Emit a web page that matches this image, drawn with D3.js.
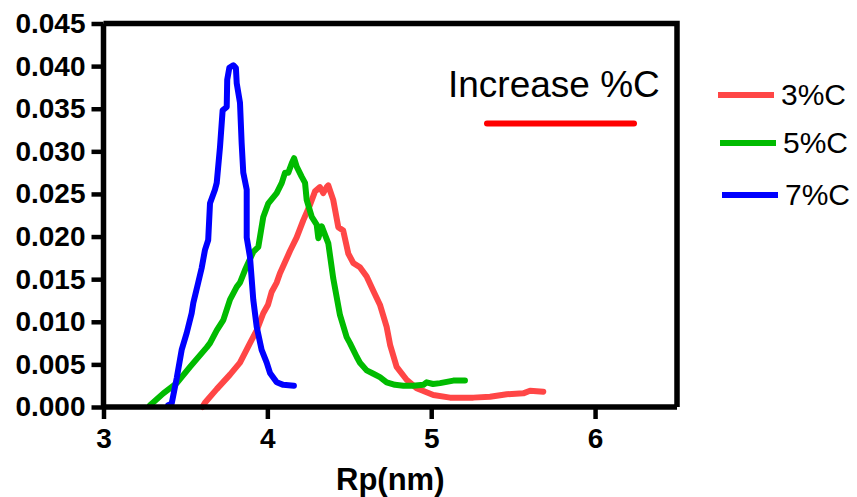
<!DOCTYPE html>
<html>
<head>
<meta charset="utf-8">
<script src="https://cdn.jsdelivr.net/npm/d3@7"></script>
<style>
	body { margin: 0; background: #fff; }
	svg { display: block; }
	text { font-family: "Liberation Sans", Arial, sans-serif; }
</style>
</head>
<body>
<svg id="chart"></svg>
<script>
// values: [Rp (nm), fraction]
const c3 = [[3.604,0.0000],[3.619,0.0005],[3.691,0.0021],[3.772,0.0038],[3.833,0.0052],[3.894,0.0075],[3.935,0.0090],[3.975,0.0110],[4.004,0.0120],[4.026,0.0135],[4.057,0.0146],[4.077,0.0157],[4.108,0.0170],[4.138,0.0183],[4.179,0.0199],[4.219,0.0219],[4.260,0.0237],[4.291,0.0253],[4.321,0.0258],[4.341,0.0251],[4.362,0.0258],[4.372,0.0260],[4.402,0.0243],[4.433,0.0211],[4.463,0.0207],[4.494,0.0180],[4.524,0.0169],[4.565,0.0164],[4.606,0.0153],[4.647,0.0136],[4.687,0.0120],[4.728,0.0094],[4.749,0.0073],[4.789,0.0047],[4.850,0.0032],[4.911,0.0022],[5.013,0.0014],[5.115,0.0011],[5.257,0.0011],[5.359,0.0012],[5.461,0.0015],[5.562,0.0016],[5.603,0.0019],[5.684,0.0018]];
const c5 = [[3.284,0.0002],[3.365,0.0016],[3.447,0.0028],[3.528,0.0047],[3.630,0.0070],[3.650,0.0075],[3.691,0.0090],[3.731,0.0102],[3.772,0.0126],[3.813,0.0141],[3.833,0.0146],[3.864,0.0161],[3.914,0.0182],[3.945,0.0188],[3.975,0.0223],[4.006,0.0239],[4.057,0.0251],[4.088,0.0263],[4.108,0.0275],[4.128,0.0275],[4.149,0.0286],[4.163,0.0292],[4.179,0.0282],[4.210,0.0270],[4.230,0.0263],[4.240,0.0243],[4.271,0.0223],[4.301,0.0214],[4.311,0.0198],[4.332,0.0212],[4.372,0.0192],[4.402,0.0151],[4.443,0.0108],[4.484,0.0082],[4.504,0.0075],[4.545,0.0059],[4.565,0.0052],[4.606,0.0043],[4.647,0.0039],[4.687,0.0035],[4.728,0.0029],[4.779,0.0026],[4.830,0.0025],[4.889,0.0025],[4.952,0.0026],[4.972,0.0029],[5.011,0.0027],[5.054,0.0028],[5.135,0.0031],[5.206,0.0031]];
const c7 = [[3.395,0.0002],[3.416,0.0004],[3.447,0.0034],[3.477,0.0067],[3.508,0.0087],[3.538,0.0110],[3.548,0.0122],[3.578,0.0146],[3.599,0.0163],[3.619,0.0184],[3.639,0.0196],[3.650,0.0239],[3.680,0.0255],[3.691,0.0263],[3.711,0.0305],[3.727,0.0348],[3.752,0.0352],[3.755,0.0384],[3.768,0.0398],[3.792,0.0401],[3.808,0.0398],[3.813,0.0380],[3.833,0.0357],[3.843,0.0310],[3.853,0.0275],[3.874,0.0255],[3.874,0.0199],[3.894,0.0176],[3.914,0.0126],[3.935,0.0094],[3.965,0.0067],[3.996,0.0052],[4.016,0.0040],[4.057,0.0029],[4.097,0.0026],[4.162,0.0025]];

const seriesNames = ["3%C", "5%C", "7%C"];
const seriesColors = ["#ff4646", "#00bb00", "#0000ff"];
const xTicks = [3, 4, 5, 6];
const yTicks = [0, 0.005, 0.010, 0.015, 0.020, 0.025, 0.030, 0.035, 0.040, 0.045];
const xLabel = "Rp(nm)";
const noteLabel = "Increase %C";

const width = 857, height = 497;
const svg = d3.select("#chart").attr("width", width).attr("height", height);

const x = d3.scaleLinear().domain([3, 6.5]).range([103.5, 677]);
const y = d3.scaleLinear().domain([0, 0.045]).range([407, 23.5]);

// curves
const line = d3.line().x(d => x(d[0])).y(d => y(d[1]));
svg.selectAll(".curve")
	.data([c3, c5, c7])
	.join("path")
	.attr("class", "curve")
	.attr("d", d => line(d))
	.attr("fill", "none")
	.attr("stroke", (d, i) => seriesColors[i])
	.attr("stroke-width", 6)
	.attr("stroke-linejoin", "round")
	.attr("stroke-linecap", "round");

// frame top + right
svg.append("path")
	.attr("d", `M${x(3)},${y(0.045)}H${x(6.5)}V${y(0)}`)
	.attr("fill", "none")
	.attr("stroke", "#000")
	.attr("stroke-width", 5.5);

// axes
const xAxis = svg.append("g")
	.attr("transform", `translate(0,${y(0)})`)
	.call(d3.axisBottom(x).tickValues(xTicks).tickFormat(d3.format("d")).tickSize(12).tickPadding(9));
const yAxis = svg.append("g")
	.attr("transform", `translate(${x(3)},0)`)
	.call(d3.axisLeft(y).tickValues(yTicks).tickFormat(d3.format(".3f")).tickSize(12).tickPadding(6));

for (let a of [xAxis, yAxis]){
	a.select(".domain").attr("stroke-width", 5.5).attr("stroke", "#000");
	a.selectAll(".tick line").attr("stroke-width", 4.5).attr("stroke", "#000");
	a.selectAll(".tick text")
		.attr("fill", "#000")
		.style("font-size", "28px")
		.style("font-weight", "bold")
		.style("font-family", "'Liberation Sans', Arial, sans-serif");
}
xAxis.select(".domain").attr("d", `M${x(3)},0H${x(6.5)}`);
yAxis.select(".domain").attr("d", `M0,${y(0)}V${y(0.045)}`);

svg.append("text")
	.attr("x", (x(3) + x(6.5)) / 2)
	.attr("y", 490)
	.attr("text-anchor", "middle")
	.style("font-size", "31px")
	.style("font-weight", "bold")
	.text(xLabel);

// note inside plot
svg.append("text")
	.attr("x", 448)
	.attr("y", 97)
	.style("font-size", "37px")
	.text(noteLabel);
svg.append("line")
	.attr("x1", 487).attr("x2", 634)
	.attr("y1", 123.5).attr("y2", 123.5)
	.attr("stroke", "#ff0000")
	.attr("stroke-width", 6)
	.attr("stroke-linecap", "round");

// legend
const legendY = [95, 143, 195];
const lg = svg.selectAll(".legend")
	.data(seriesNames)
	.join("g")
	.attr("class", "legend")
	.attr("transform", (d, i) => `translate(${718 + i * 2},${legendY[i]})`);
lg.append("line")
	.attr("x1", 0).attr("x2", 56)
	.attr("stroke", (d, i) => seriesColors[i])
	.attr("stroke-width", 6);
lg.append("text")
	.attr("x", 63)
	.attr("y", 10)
	.style("font-size", "30px")
	.text(d => d);
</script>
</body>
</html>
